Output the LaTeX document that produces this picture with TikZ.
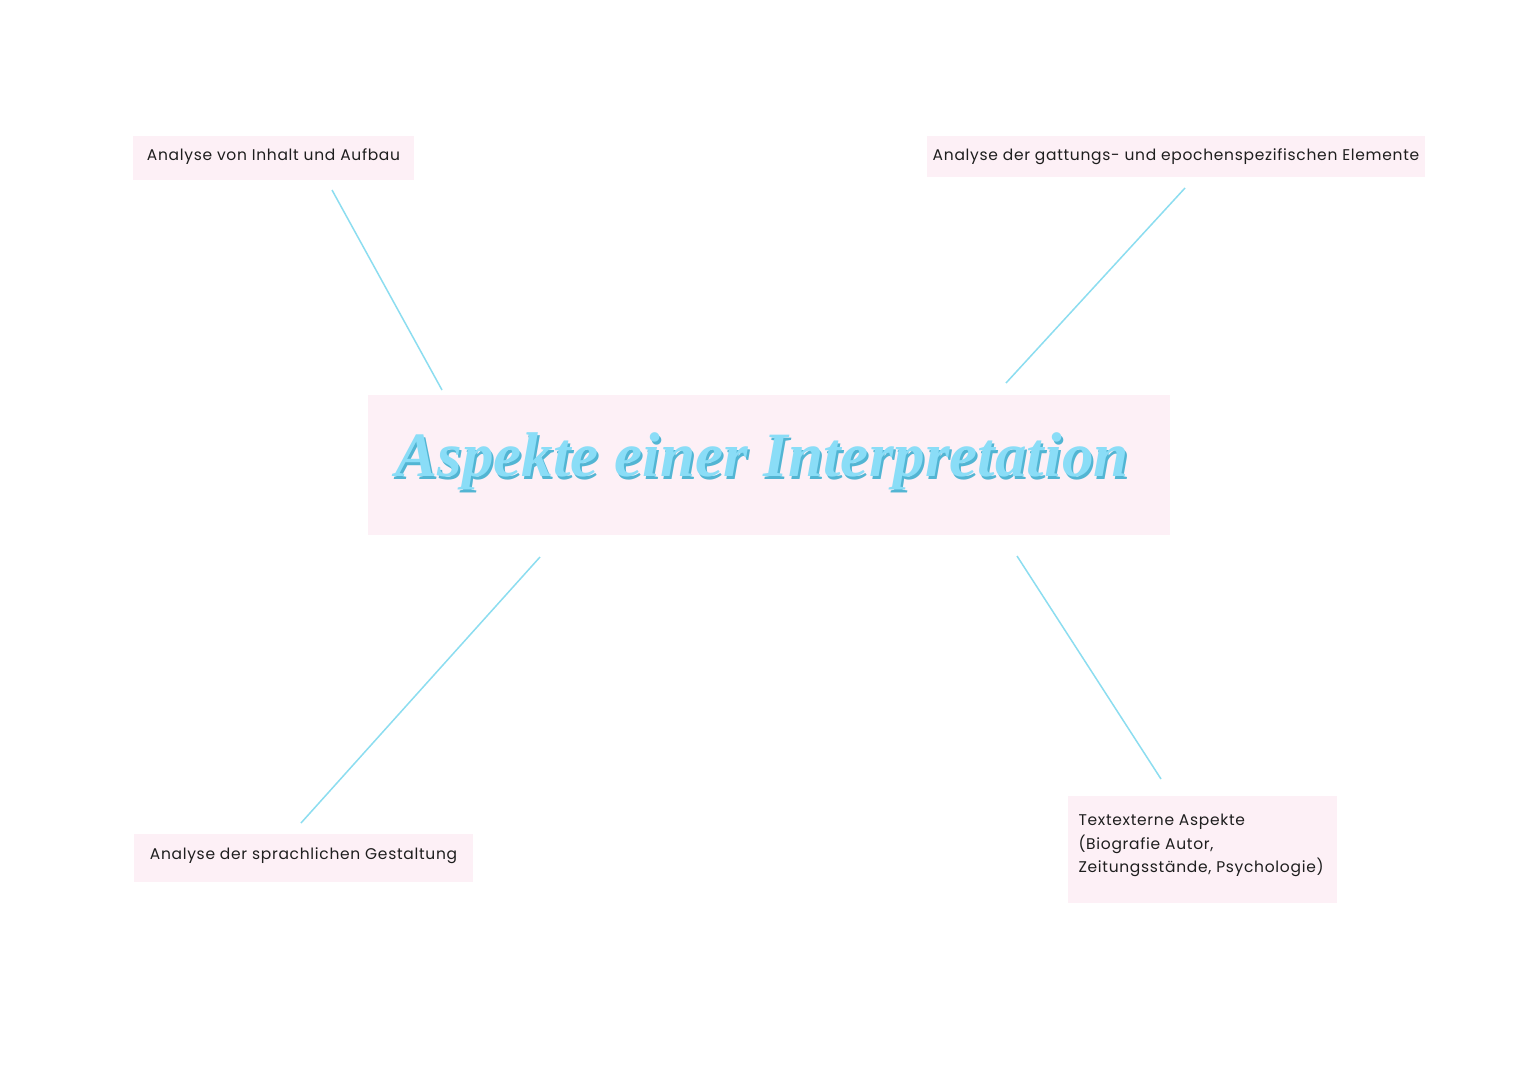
\documentclass[tikz,border=0pt]{standalone}
\usepackage{fontspec}
\setmainfont{Poppins}[LetterSpace=4.5]
\newfontfamily\titlefont{Liberation Serif}
\definecolor{boxfill}{HTML}{FDF0F6}
\definecolor{linkblue}{HTML}{8CDDF0}
\definecolor{titleblue}{HTML}{8ADDF7}
\definecolor{titleshade}{HTML}{52B5D3}
\definecolor{inktext}{HTML}{1E1E1E}
\tikzset{
  leafbox/.style={fill=boxfill, draw=none, inner sep=0pt, font=\fontsize{15.5}{23.5}\selectfont, text=inktext},
  link/.style={draw=linkblue, line width=1.5pt},
}
\begin{document}
\begin{tikzpicture}[x=1pt,y=-1pt]
\useasboundingbox[fill=white] (0,0) rectangle (1527,1080);
% boxes
\node[leafbox, minimum width=281pt, minimum height=44pt, text depth=6pt] (tl) at (273.5,158) {Analyse von Inhalt und Aufbau};
\node[leafbox, minimum width=498pt, minimum height=41pt] (tr) at (1176,156.5) {Analyse der gattungs- und epochenspezifischen Elemente};
\node[leafbox, minimum width=802pt, minimum height=140pt] (c) at (769,465) {};
\node[leafbox, minimum width=339pt, minimum height=48pt, text depth=8pt] (bl) at (303.5,858) {Analyse der sprachlichen Gestaltung};
\node[leafbox, minimum width=269pt, minimum height=107pt] (br) at (1202.5,849.5)
  {\parbox[c][84pt][t]{248pt}{\raggedright\vspace*{7pt}Textexterne Aspekte\\(Biografie Autor,\\Zeitungsstände, Psychologie)}};
% title
\node[text=titleshade, inner sep=0pt] (tshade) at (764,464) {\resizebox{733pt}{!}{\titlefont\bfseries\itshape Aspekte einer Interpretation}};
\node[text=titleblue, inner sep=0pt] (title) at (762,461) {\resizebox{733pt}{!}{\titlefont\bfseries\itshape Aspekte einer Interpretation}};
% connector ends
\coordinate (tlA) at (332,190);
\coordinate (cTL) at (442,390);
\coordinate (trA) at (1185,188);
\coordinate (cTR) at (1006,383);
\coordinate (cBL) at (540,557);
\coordinate (blA) at (301,823);
\coordinate (cBR) at (1017,556);
\coordinate (brA) at (1161,779);
\draw[link] (tlA) -- (cTL);
\draw[link] (trA) -- (cTR);
\draw[link] (cBL) -- (blA);
\draw[link] (cBR) -- (brA);
\end{tikzpicture}
\end{document}
